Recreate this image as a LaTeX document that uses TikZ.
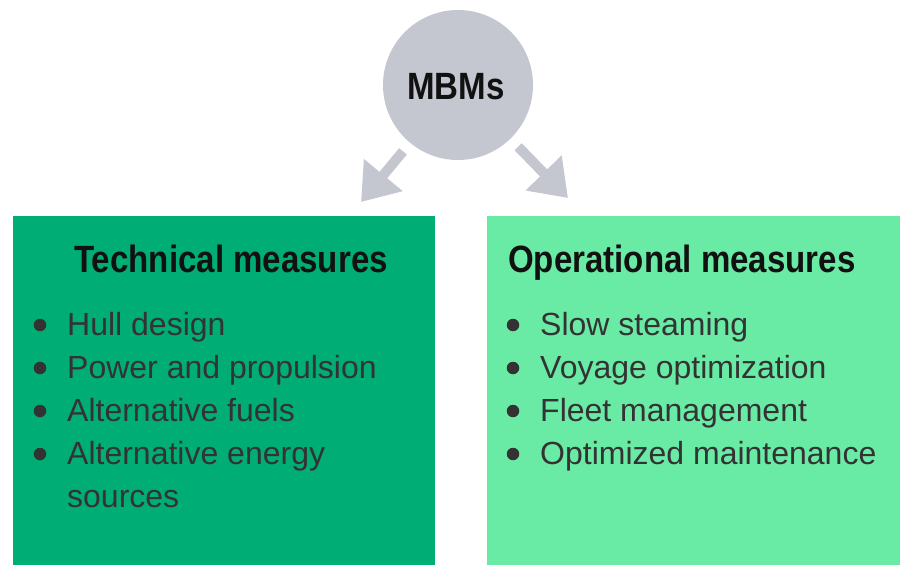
\documentclass[tikz,border=0pt]{standalone}
\usepackage{fontspec}
\setmainfont{Liberation Sans}
\newfontfamily\headfont[FakeStretch=0.87]{Liberation Sans}
\usetikzlibrary{arrows.meta}
\definecolor{techgreen}{HTML}{00AD74}
\definecolor{opgreen}{HTML}{6AEBA5}
\definecolor{mbmgray}{HTML}{C4C6D0}
\definecolor{txt}{HTML}{333333}
\definecolor{headtxt}{HTML}{111111}
\tikzset{
  head/.style={font=\headfont\fontsize{38}{42}\selectfont\bfseries, text=headtxt, inner sep=0pt},
  item/.style={font=\fontsize{32}{40}\selectfont, text=txt, inner sep=0pt, anchor=base west},
  dot/.style={circle, fill=txt, minimum size=12.5pt, inner sep=0pt},
  flowarrow/.style={draw=mbmgray, line width=10pt, -{Triangle[length=35pt,width=48pt]}, shorten <=11pt}
}
\begin{document}
\begin{tikzpicture}[x=1pt,y=-1pt]
\useasboundingbox (0,0) rectangle (900,565);
% boxes
\fill[techgreen] (13,216) rectangle (435,565);
\fill[opgreen] (487,216) rectangle (900,565);
% circle
\node[circle, fill=mbmgray, minimum size=150pt, inner sep=0pt] (mbm) at (458,85) {};
\node[head, anchor=base] (mbmtxt) at (456,99) {MBMs};
% arrows
\coordinate (tl) at (361,202);
\coordinate (tr) at (568,198);
\draw[flowarrow] (mbm) -- (tl);
\draw[flowarrow] (mbm) -- (tr);
% headings
\node[head, anchor=base] (th) at (231,272) {Technical measures};
\node[head, anchor=base west] (oh) at (508,272) {Operational measures};
% left items
\node[item] (l1) at (67,335) {Hull design};
\node[item] (l2) at (67,378) {Power and propulsion};
\node[item] (l3) at (67,421) {Alternative fuels};
\node[item] (l4) at (67,464) {Alternative energy};
\node[item] (l5) at (67,507) {sources};
\node[dot] (b1) at (40,325) {};
\node[dot] (b2) at (40,368) {};
\node[dot] (b3) at (40,411) {};
\node[dot] (b4) at (40,454) {};
% right items
\node[item] (r1) at (540,335) {Slow steaming};
\node[item] (r2) at (540,378) {Voyage optimization};
\node[item] (r3) at (540,421) {Fleet management};
\node[item] (r4) at (540,464) {Optimized maintenance};
\node[dot] (c1) at (513,325) {};
\node[dot] (c2) at (513,368) {};
\node[dot] (c3) at (513,411) {};
\node[dot] (c4) at (513,454) {};
\end{tikzpicture}
\end{document}
